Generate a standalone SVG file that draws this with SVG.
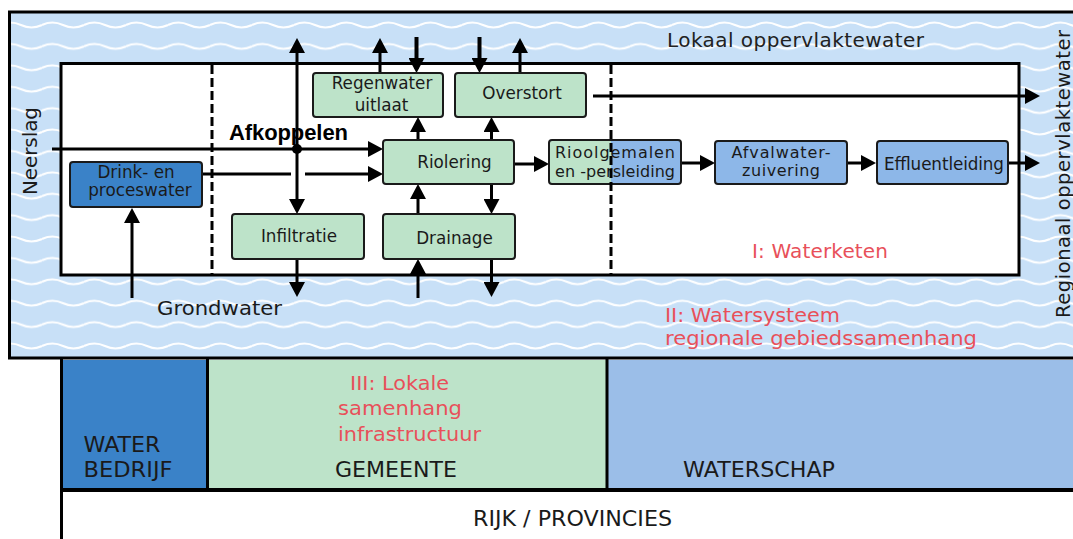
<svg xmlns="http://www.w3.org/2000/svg" width="1073" height="539" viewBox="0 0 1073 539">
<defs>
<pattern id="waves" patternUnits="userSpaceOnUse" x="0" y="14.3" width="42" height="21.4">
<path d="M0,10.7 Q10.5,5.7 21,10.7 T42,10.7" fill="none" stroke="#ffffff" stroke-width="2"/>
</pattern>
<marker id="ah" markerUnits="userSpaceOnUse" markerWidth="15" markerHeight="16" refX="11" refY="8" orient="auto">
<path d="M0,0 L15,8 L0,16 Z" fill="#000"/>
</marker>
<clipPath id="rgclip"><rect x="549" y="140" width="132" height="44" rx="3"/></clipPath>
</defs>
<style>
.node{stroke:#1a1a1a;stroke-width:2}
.green{fill:#bde3c9}
.lblue{fill:#8db7e8}
.dblue{fill:#3a82c8}
.lbl{font-family:"DejaVu Sans",sans-serif;font-size:16.8px;fill:#1a1a1a;text-anchor:middle}
.big{font-family:"DejaVu Sans",sans-serif;font-size:20px;fill:#1a1a1a}
.red{font-family:"DejaVu Sans",sans-serif;font-size:20px;fill:#e8505a}
.os{font-family:"DejaVu Sans",sans-serif;font-size:20.5px;fill:#1a1a1a}
.osr{font-family:"DejaVu Sans",sans-serif;font-size:19.5px;fill:#e8505a}
.con{fill:none;stroke:#000;stroke-width:3;marker-end:url(#ah)}
.thick{stroke-width:4}
.plain{fill:none;stroke:#000;stroke-width:3}
.dash{fill:none;stroke:#000;stroke-width:3;stroke-dasharray:9 4}
</style>
<rect width="1073" height="539" fill="#ffffff"/>
<g id="watersysteem">
<rect x="9.5" y="12" width="1075" height="346" fill="#c8e0f7"/>
<rect x="9.5" y="12" width="1075" height="346" fill="url(#waves)" stroke="#000" stroke-width="3"/>
</g>
<g id="waterketen">
<rect x="61" y="63.5" width="958" height="211.5" fill="#ffffff" stroke="#000" stroke-width="3"/>
</g>
<g id="bodies">
<g id="waterbedrijf"><rect x="60" y="360" width="147" height="129" class="dblue"/>
<text class="os" x="83.5" y="452" textLength="77" lengthAdjust="spacingAndGlyphs">WATER</text>
<text class="os" x="83.5" y="477" textLength="89" lengthAdjust="spacingAndGlyphs">BEDRIJF</text></g>
<g id="gemeente"><rect x="207" y="360" width="400" height="129" class="green"/>
<text class="osr" x="350" y="390" textLength="99" lengthAdjust="spacingAndGlyphs">III: Lokale</text>
<text class="osr" x="338" y="415" textLength="124" lengthAdjust="spacingAndGlyphs">samenhang</text>
<text class="osr" x="338" y="441" textLength="143" lengthAdjust="spacingAndGlyphs">infrastructuur</text>
<text class="os" x="335" y="477" textLength="122" lengthAdjust="spacingAndGlyphs">GEMEENTE</text></g>
<g id="waterschap"><rect x="607" y="360" width="470" height="129" fill="#9bbee8"/>
<text class="os" x="683" y="477" textLength="152" lengthAdjust="spacingAndGlyphs">WATERSCHAP</text></g>
<g id="rijk"><text class="os" x="473" y="526" textLength="199" lengthAdjust="spacingAndGlyphs">RIJK / PROVINCIES</text></g>
<path class="plain" d="M61.5,358 V539 M207.5,358 V489 M607,358 V489"/>
<path fill="none" stroke="#000" stroke-width="4" d="M60,490 H1073"/>
</g>
<g id="connectors">
<path class="con" d="M52,149 H379"/>
<path class="plain" d="M202,174 H291"/>
<path class="con" d="M305,174 H379"/>
<path class="con" d="M297,149 V42"/>
<path class="con" d="M297,149 V210"/>
<circle cx="297" cy="149" r="5" fill="#000"/>
<path class="con" d="M380,73 V42"/>
<path class="con thick" d="M416.5,37 V69"/>
<path class="con" d="M418,140 V121"/>
<path class="con thick" d="M479.5,37 V69"/>
<path class="con" d="M520,73 V42"/>
<path class="con" d="M491.5,140 V121"/>
<path class="con" d="M593,96 H1036"/>
<path class="con" d="M514,164 H545"/>
<path class="con" d="M681,163 H711"/>
<path class="con" d="M847,163 H872"/>
<path class="con" d="M1008,163 H1036"/>
<path class="con" d="M491.5,184 V210"/>
<path class="con" d="M418,214 V188"/>
<path class="con" d="M297,259 V293"/>
<path class="con" d="M418,298 V263"/>
<path class="con" d="M491.5,259 V293"/>
<path class="con" d="M132,298 V212"/>
</g>
<g id="drink">
<rect x="70" y="162" width="132" height="45" rx="3" class="node dblue"/>
<text class="lbl" x="136" y="178">Drink- en</text>
<text class="lbl" x="140" y="196">proceswater</text>
</g>
<g id="regenwater">
<rect x="313" y="73" width="130" height="44" rx="3" class="node green"/>
<text class="lbl" x="382" y="89">Regenwater</text>
<text class="lbl" x="381.5" y="110.5">uitlaat</text>
</g>
<g id="overstort">
<rect x="455" y="73" width="131" height="44" rx="3" class="node green"/>
<text class="lbl" x="522" y="99">Overstort</text>
</g>
<g id="riolering">
<rect x="383" y="140" width="131" height="44" rx="3" class="node green"/>
<text class="lbl" x="454.5" y="168">Riolering</text>
</g>
<g id="infiltratie">
<rect x="232" y="214" width="132" height="45" rx="3" class="node green"/>
<text class="lbl" x="299" y="242">Infiltratie</text>
</g>
<g id="drainage">
<rect x="383" y="214" width="132" height="45" rx="3" class="node green"/>
<text class="lbl" x="454.5" y="244">Drainage</text>
</g>
<g id="rioolgemalen">
<rect x="549" y="140" width="132" height="44" rx="3" class="green"/>
<rect x="611" y="140" width="70" height="44" class="lblue" clip-path="url(#rgclip)"/>
<rect x="549" y="140" width="132" height="44" rx="3" class="node" fill="none"/>
<text class="lbl" x="615" y="158" textLength="120" style="font-size:16px">Rioolgemalen</text>
<text class="lbl" x="615" y="177" textLength="120" style="font-size:16px">en -persleiding</text>
</g>
<g id="afvalwater">
<rect x="715" y="141" width="132" height="43" rx="3" class="node lblue"/>
<text class="lbl" x="781" y="158" textLength="99" style="font-size:16px">Afvalwater-</text>
<text class="lbl" x="781" y="176" textLength="78" style="font-size:16px">zuivering</text>
</g>
<g id="effluent">
<rect x="877" y="141" width="131" height="43" rx="3" class="node lblue"/>
<text class="lbl" x="944" y="170" textLength="120">Effluentleiding</text>
</g>
<g id="boundaries">
<path class="dash" d="M212,65 V274 M611,65 V274"/>
</g>
<g id="labels">
<text class="big" x="667" y="47" textLength="257" style="fill:#222">Lokaal oppervlaktewater</text>
<text class="big" transform="translate(37,151) rotate(-90)" text-anchor="middle" textLength="88">Neerslag</text>
<text class="big" transform="translate(1069.5,174) rotate(-90)" text-anchor="middle" textLength="288" style="font-size:19.5px">Regionaal oppervlaktewater</text>
<text x="229" y="140" textLength="119" style="font-family:'Liberation Sans',Arial,sans-serif;font-weight:bold;font-size:22px;fill:#000">Afkoppelen</text>
<text class="red" x="752" y="258" textLength="136">I: Waterketen</text>
<text class="os" x="157" y="315" textLength="125" lengthAdjust="spacingAndGlyphs" style="font-size:19px">Grondwater</text>
<text class="osr" x="665" y="322" textLength="175" lengthAdjust="spacingAndGlyphs">II: Watersysteem</text>
<text class="osr" x="665" y="345" textLength="312" lengthAdjust="spacingAndGlyphs">regionale gebiedssamenhang</text>
</g>
</svg>
